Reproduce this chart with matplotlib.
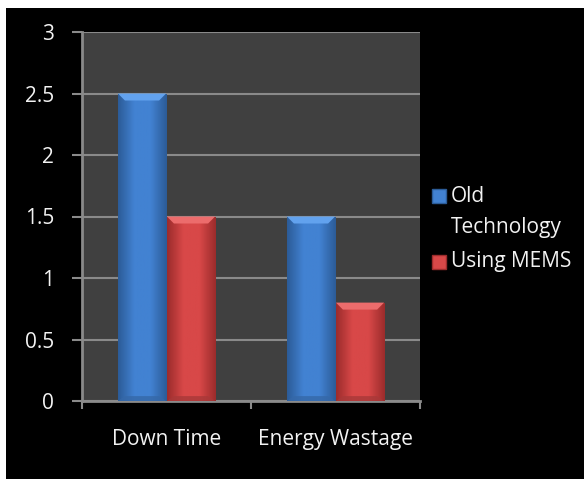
import numpy as np
import matplotlib
matplotlib.use('Agg')
import matplotlib.pyplot as plt
from matplotlib.patches import Rectangle, Polygon
from matplotlib.colors import LinearSegmentedColormap

plt.rcParams['font.family'] = ['Open Sans', 'DejaVu Sans']

# データ
categories = ['Down Time', 'Energy Wastage']
series_names = ['Old\nTechnology', 'Using MEMS']
old_tech = [2.5, 1.5]
using_mems = [1.5, 0.8]
y_ticks = [0, 0.5, 1, 1.5, 2, 2.5, 3]

# 色 (edge, center, top bevel, bottom bevel)
blue = ['#2c5c98', '#4282d2', '#62a2ee', '#3568a8']
red = ['#9c2c2c', '#d84848', '#ec6c6c', '#a83838']

W, H = 584, 479
FS = 15
fig = plt.figure(figsize=(W / 100, H / 100), dpi=100, facecolor='white')
fig.patches.append(Rectangle((6 / W, 0), 1 - 6 / W, 1 - 8 / H, transform=fig.transFigure,
                             facecolor='black', edgecolor='none', zorder=-10))

ax = fig.add_axes([82 / W, 1 - 401 / H, (420 - 82) / W, (401 - 32) / H])
ax.set_facecolor('#404040')
ax.set_xlim(-0.5, 1.5)
ax.set_ylim(0, 3)

x = np.arange(len(categories))
width = 0.285
off = 0.145


def fancy_bars(xs, vals, cols):
    bars = ax.bar(xs, vals, width, color=cols[1], edgecolor='none', zorder=3)
    cmap = LinearSegmentedColormap.from_list('g', [cols[0], cols[1], cols[1], cols[0]])
    grad = np.linspace(0, 1, 64).reshape(1, -1)
    # ピクセル→データ換算
    dx = 7 * 2 / 338
    dy = 7 * 3 / 369
    for b in bars:
        x0, y0 = b.get_x(), b.get_y()
        x1, y1 = x0 + b.get_width(), y0 + b.get_height()
        im = ax.imshow(grad, extent=[x0, x1, y0, y1], aspect='auto', cmap=cmap, zorder=3.1)
        im.set_clip_path(b)
        ax.add_patch(Polygon([(x0, y1), (x1, y1), (x1 - dx, y1 - dy), (x0 + dx, y1 - dy)],
                             closed=True, facecolor=cols[2], edgecolor='none', zorder=3.2))
        ax.add_patch(Polygon([(x0, y0), (x1, y0), (x1 - dx, y0 + dy * 0.7), (x0 + dx, y0 + dy * 0.7)],
                             closed=True, facecolor=cols[3], edgecolor='none', alpha=0.8, zorder=3.2))
    return bars


fancy_bars(x - off, old_tech, blue)
fancy_bars(x + off, using_mems, red)
ax.set_xlim(-0.5, 1.5)
ax.set_ylim(0, 3)

# グリッド・軸
ax.set_yticks(y_ticks)
ax.set_yticklabels([f'{t:g}' for t in y_ticks])
ax.yaxis.grid(True, color='#8a8a8a', linewidth=1.5, zorder=1)
ax.set_axisbelow(True)
ax.set_xticks(x)
ax.set_xticklabels(categories)
ax.set_xticks([-0.5, 0.5, 1.5], minor=True)
ax.tick_params(axis='x', which='major', length=0, pad=20, labelsize=FS, labelcolor='#f2f2f2')
ax.tick_params(axis='x', which='minor', length=6, width=1.5, color='#8a8a8a')
ax.tick_params(axis='y', length=7, width=1.5, color='#8a8a8a', pad=13, labelsize=FS, labelcolor='#f2f2f2')
for s in ['top', 'right']:
    ax.spines[s].set_visible(False)
for s in ['left', 'bottom']:
    ax.spines[s].set_color('#8a8a8a')
    ax.spines[s].set_linewidth(2)

# 凡例
legend_rows = [(196, blue), (262, red)]
for (yc, cols), name in zip(legend_rows, series_names):
    fig.patches.append(Rectangle((432 / W, 1 - (yc + 7) / H), 14 / W, 14 / H, transform=fig.transFigure,
                                 facecolor=cols[1], edgecolor=cols[0], linewidth=1))
    lines = name.split('\n')
    for k, line in enumerate(lines):
        fig.text(451 / W, 1 - (yc + k * 31) / H, line, color='#f2f2f2', fontsize=FS,
                 ha='left', va='center')

fig.savefig('out.png', dpi=100, facecolor=fig.get_facecolor())
